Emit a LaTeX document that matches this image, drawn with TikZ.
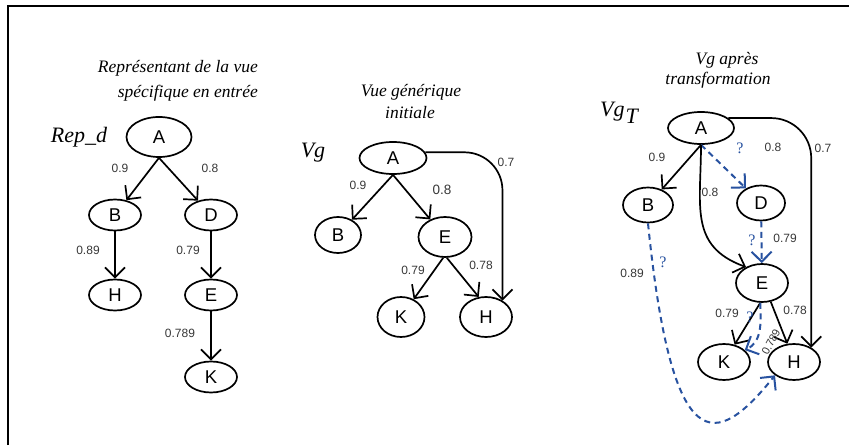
\documentclass[tikz,border=0pt]{standalone}
\usepackage{fontspec}
\setmainfont{Liberation Serif}
\newfontfamily\lsans{Liberation Sans}
\usetikzlibrary{arrows.meta,shapes.geometric}
\definecolor{qblue}{RGB}{40,82,160}
\definecolor{lbl}{RGB}{55,55,55}
\begin{document}
\begin{tikzpicture}[x=1pt,y=1pt,
  nd/.style={ellipse, draw, line width=1.7pt, inner sep=0pt, font=\lsans\fontsize{18.5}{18.5}\selectfont},
  edge/.style={line width=1.7pt, -{Straight Barb[length=10pt,width=20pt]}},
  qedge/.style={edge, draw=qblue, dash pattern=on 6pt off 4.5pt, line width=2pt},
  wt/.style={font=\lsans\fontsize{12}{12}\selectfont, text=lbl, inner sep=0pt},
  ttl/.style={font=\itshape\fontsize{17.5}{17.5}\selectfont, inner sep=0pt},
  bigl/.style={font=\itshape\fontsize{22}{22}\selectfont, inner sep=0pt},
  qm/.style={font=\fontsize{16}{16}\selectfont, text=qblue, inner sep=0pt}]
\useasboundingbox (0,0) rectangle (849,445);
% frame
\draw[line width=2pt] (8,0) -- (8,439) -- (849,439);

% ---------- panel 1 ----------
\node[ttl, anchor=east] (t1a) at (258,377) {Représentant de la vue};
\node[ttl, anchor=east] (t1b) at (258,352) {spécifique en entrée};
\node[bigl] (rep) at (79,308) {Rep\_d};
\node[nd, minimum width=65pt, minimum height=40pt] (A1) at (159,308) {A};
\node[nd, minimum width=52pt, minimum height=31pt] (B1) at (115,230) {B};
\node[nd, minimum width=52pt, minimum height=31pt] (D1) at (211,230) {D};
\node[nd, minimum width=52pt, minimum height=31pt] (H1) at (115,150) {H};
\node[nd, minimum width=52pt, minimum height=31pt] (E1) at (211,150) {E};
\node[nd, minimum width=52pt, minimum height=31pt] (K1) at (211,68) {K};
\draw[edge] (A1.south) -- (B1);
\draw[edge] (A1.south) -- (D1);
\draw[edge] (B1) -- (H1);
\draw[edge] (D1) -- (E1);
\draw[edge] (E1) -- (K1);
\node[wt] (w11) at (120,277) {0.9};
\node[wt] (w12) at (210,277) {0.8};
\node[wt] (w13) at (88,195) {0.89};
\node[wt] (w14) at (188,195) {0.79};
\node[wt] (w15) at (180,112) {0.789};

% ---------- panel 2 ----------
\node[ttl] (t2a) at (411,353) {Vue générique};
\node[ttl] (t2b) at (410,332) {initiale};
\node[bigl] (vg) at (313,292) {Vg};
\node[nd, minimum width=67pt, minimum height=32pt] (A2) at (393,287) {A};
\node[nd, minimum width=46pt, minimum height=36pt] (B2) at (338,210) {B};
\node[nd, minimum width=53pt, minimum height=40pt] (E2) at (445,208) {E};
\node[nd, minimum width=47pt, minimum height=40pt] (K2) at (401,128) {K};
\node[nd, minimum width=52pt, minimum height=40pt] (H2) at (486,128) {H};
\draw[edge] (A2.south) -- (B2);
\draw[edge] (A2.south) -- (E2);
\draw[edge] (E2.-95) -- (K2);
\draw[edge] (E2.-85) -- (H2.110);
\draw[edge, rounded corners=38pt] (A2.10) -| (H2.45);
\node[wt] (w21) at (506,283) {0.7};
\node[wt] (w22) at (358,260) {0.9};
\node[wt, font=\lsans\fontsize{13.5}{13.5}\selectfont] (w23) at (442,255) {0.8};
\node[wt] (w24) at (413,175) {0.79};
\node[wt] (w25) at (481,180) {0.78};

% ---------- panel 3 ----------
\node[ttl] (t3a) at (727,385) {Vg après};
\node[ttl] (t3b) at (718,365) {transformation};
\node[bigl] (vgt) at (619,332) {Vg\kern1pt\raisebox{-7pt}{T}};
\node[nd, minimum width=66pt, minimum height=32pt] (A3) at (701,317) {A};
\node[nd, minimum width=50pt, minimum height=35pt] (B3) at (648,240) {B};
\node[nd, minimum width=48pt, minimum height=35pt] (D3) at (761,242) {D};
\node[nd, minimum width=52pt, minimum height=38pt] (E3) at (762,162) {E};
\node[nd, minimum width=52pt, minimum height=36pt] (K3) at (724,83) {K};
\node[nd, minimum width=52pt, minimum height=36pt] (H3) at (794,83) {H};
\draw[edge] (A3.south) -- (B3);
\draw[qedge] (A3.south) -- (D3);
\draw[edge] (A3.south) to[out=-90, in=160, looseness=1.2] (E3.135);
\draw[edge, rounded corners=40pt] (A3.20) -| (H3.40);
\draw[qedge] (D3) -- (E3);
\draw[edge] (E3.-95) -- (K3);
\draw[edge] (E3.-65) -- (H3.110);
\draw[qedge] (E3.-95) to[out=-88, in=25] (K3.30);
\draw[qedge] (B3.south) .. controls (672,-15) and (715,-5) .. (H3.215);
\node[wt] (w31) at (657,288) {0.9};
\node[qm] (q1) at (740,297) {?};
\node[wt] (w32) at (773,298) {0.8};
\node[wt] (w33) at (823,297) {0.7};
\node[wt] (w34) at (710,253) {0.8};
\node[qm] (q2) at (752,205) {?};
\node[wt] (w35) at (785,207) {0.79};
\node[wt] (w36) at (632,172) {0.89};
\node[qm] (q3) at (663,183) {?};
\node[wt] (w37) at (727,132) {0.79};
\node[wt] (w38) at (795,135) {0.78};
\node[qm] (q4) at (750,128) {?};
\node[wt, font=\lsans\fontsize{11}{11}\selectfont, rotate=62] (w39) at (771,103) {0.789};
\end{tikzpicture}
\end{document}
